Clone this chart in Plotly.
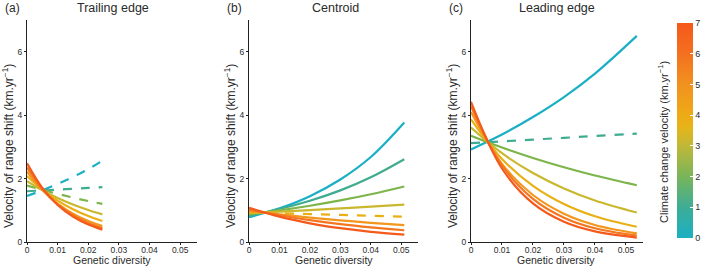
import plotly.graph_objects as go

# ---------------- data ----------------
velocities = [0, 1, 2, 3, 4, 5, 6, 7]
line_colors = ["#1AAFC4", "#3FAC8F", "#7DB54B", "#C9B82E",
               "#E9B015", "#F2961E", "#F4771F", "#F45A1C"]

x_trailing = [0, 0.005, 0.01, 0.015, 0.02, 0.0246]
y_trailing = [
    [1.45, 1.63, 1.83, 2.05, 2.30, 2.56],
    [1.60, 1.626, 1.65, 1.68, 1.705, 1.73],
    [1.78, 1.643, 1.516, 1.40, 1.292, 1.20],
    [1.92, 1.635, 1.391, 1.184, 1.009, 0.87],
    [2.08, 1.648, 1.304, 1.033, 0.818, 0.66],
    [2.22, 1.64, 1.21, 0.894, 0.661, 0.50],
    [2.35, 1.673, 1.188, 0.846, 0.602, 0.44],
    [2.48, 1.704, 1.168, 0.802, 0.551, 0.39],
]
dash_trailing = [True, True, True, False, False, False, False, False]

x_centroid = [0, 0.01, 0.02, 0.03, 0.04, 0.051]
y_centroid = [
    [0.78, 1.062, 1.446, 1.97, 2.68, 3.77],
    [0.83, 1.039, 1.30, 1.628, 2.04, 2.61],
    [0.87, 0.998, 1.144, 1.312, 1.505, 1.75],
    [0.91, 0.957, 1.007, 1.06, 1.115, 1.18],
    [0.94, 0.911, 0.882, 0.855, 0.828, 0.80],
    [0.98, 0.869, 0.770, 0.683, 0.605, 0.53],
    [1.03, 0.843, 0.689, 0.564, 0.462, 0.37],
    [1.08, 0.798, 0.589, 0.435, 0.321, 0.23],
]
dash_centroid = [False, False, False, False, True, False, False, False]

x_leading = [0, 0.01, 0.02, 0.03, 0.04, 0.0535]
y_leading = [
    [2.92, 3.39, 3.94, 4.57, 5.31, 6.50],
    [3.12, 3.174, 3.229, 3.285, 3.342, 3.42],
    [3.35, 2.98, 2.65, 2.357, 2.096, 1.79],
    [3.61, 2.80, 2.174, 1.687, 1.309, 0.93],
    [3.87, 2.619, 1.773, 1.20, 0.812, 0.48],
    [4.10, 2.465, 1.482, 0.891, 0.536, 0.27],
    [4.28, 2.413, 1.361, 0.767, 0.433, 0.20],
    [4.42, 2.318, 1.216, 0.637, 0.334, 0.14],
]
dash_leading = [False, True, False, False, False, False, False, False]

panel_titles = ["Trailing edge", "Centroid", "Leading edge"]
panel_letters = ["(a)", "(b)", "(c)"]
x_tickvals = [0, 0.01, 0.02, 0.03, 0.04, 0.05]
x_ticktext = ["0", "0.01", "0.02", "0.03", "0.04", "0.05"]
y_tickvals = [0, 2, 4, 6]
cbar_ticks = [0, 1, 2, 3, 4, 5, 6, 7]

colorscale = [
    [0.0, "#1CAFC3"], [1 / 7, "#3DAD96"], [2 / 7, "#78B55A"],
    [3 / 7, "#C0B838"], [3.6 / 7, "#E6B41A"], [4 / 7, "#EEAA16"],
    [5 / 7, "#F1921F"], [6 / 7, "#F4701F"], [1.0, "#F5581B"],
]

# ---------------- figure ----------------
W, H = 709, 267
FONT = "Liberation Sans, Arial, sans-serif"
TXT = "#2a2a2a"

fig = go.Figure()

panels = [
    (x_trailing, y_trailing, dash_trailing),
    (x_centroid, y_centroid, dash_centroid),
    (x_leading, y_leading, dash_leading),
]
axis_px = [(27, 197), (249, 418), (471, 643)]
y_top_px, y_bot_px = 20, 242

def px_x(p):
    return p / W

def px_y(p):
    return 1 - p / H

for i, (xs, ys, dashes) in enumerate(panels):
    xa = "x" if i == 0 else f"x{i+1}"
    ya = "y" if i == 0 else f"y{i+1}"
    for v, yv, d in zip(velocities, ys, dashes):
        fig.add_trace(go.Scatter(
            x=xs, y=yv, mode="lines", xaxis=xa, yaxis=ya,
            line=dict(color=line_colors[v], width=2.2,
                      dash="dash" if d else "solid", shape="spline", smoothing=1.0),
            showlegend=False, hoverinfo="skip",
        ))

# dummy trace for the colour bar
fig.add_trace(go.Scatter(
    x=[0], y=[-5], mode="markers", xaxis="x", yaxis="y", showlegend=False,
    hoverinfo="skip",
    marker=dict(color=[0], cmin=0, cmax=7, colorscale=colorscale, size=1,
                showscale=True,
                colorbar=dict(
                    x=px_x(677), xanchor="left", xpad=0,
                    y=px_y(130.5), yanchor="middle", ypad=0,
                    len=(238 - 23) / H, lenmode="fraction",
                    thickness=16, thicknessmode="pixels",
                    outlinewidth=0,
                    tickvals=cbar_ticks, ticktext=[str(t) for t in cbar_ticks],
                    ticks="inside", ticklen=3, tickcolor="white",
                    tickfont=dict(size=9, color=TXT, family=FONT),
                )),
))

layout = dict(
    template="none",
    width=W, height=H,
    margin=dict(l=0, r=0, t=0, b=0, pad=0, autoexpand=False),
    paper_bgcolor="white", plot_bgcolor="white",
    font=dict(family=FONT, color=TXT),
    showlegend=False,
)
annotations = []
for i, (x0, x1) in enumerate(axis_px):
    suffix = "" if i == 0 else str(i + 1)
    layout["xaxis" + suffix] = dict(
        domain=[px_x(x0), px_x(x1)], anchor="y" + suffix,
        range=[0, 0.0555], showgrid=False, zeroline=False, automargin=False,
        showline=True, linecolor="#222222", linewidth=1,
        ticks="outside", ticklen=2, tickcolor="#222222", tickwidth=1,
        ticklabelstandoff=-2,
        tickvals=x_tickvals, ticktext=x_ticktext,
        tickfont=dict(size=8.5, color=TXT, family=FONT),
    )
    layout["yaxis" + suffix] = dict(
        domain=[px_y(y_bot_px), px_y(y_top_px)], anchor="x" + suffix,
        range=[0, 7], showgrid=False, zeroline=False, automargin=False,
        showline=True, linecolor="#222222", linewidth=1,
        ticks="outside", ticklen=2, tickcolor="#222222", tickwidth=1,
        tickvals=y_tickvals,
        tickfont=dict(size=8.5, color=TXT, family=FONT),
    )
    annotations.append(dict(
        text="Genetic diversity", x=px_x(x0 + 85), y=px_y(259.5),
        xref="paper", yref="paper", xanchor="center", yanchor="middle",
        showarrow=False, font=dict(size=10.5, color=TXT, family=FONT)))
    annotations.append(dict(
        text="Velocity of range shift (km.yr<sup>−1</sup>)",
        x=px_x(x0 - 19), y=px_y(146), textangle=-90,
        xref="paper", yref="paper", xanchor="center", yanchor="middle",
        showarrow=False, font=dict(size=12, color=TXT, family=FONT)))
    annotations.append(dict(
        text=panel_titles[i], x=px_x(x0 + 86), y=px_y(8),
        xref="paper", yref="paper", xanchor="center", yanchor="middle",
        showarrow=False, font=dict(size=12.5, color=TXT, family=FONT)))
    annotations.append(dict(
        text=panel_letters[i], x=px_x(x0 - 15), y=px_y(8),
        xref="paper", yref="paper", xanchor="center", yanchor="middle",
        showarrow=False, font=dict(size=12, color=TXT, family=FONT)))

annotations.append(dict(
    text="Climate change velocity (km.yr<sup>−1</sup>)",
    x=px_x(663), y=px_y(142), textangle=-90,
    xref="paper", yref="paper", xanchor="center", yanchor="middle",
    showarrow=False, font=dict(size=11, color=TXT, family=FONT)))

layout["annotations"] = annotations
fig.update_layout(**layout)

fig.write_html("out.html")
